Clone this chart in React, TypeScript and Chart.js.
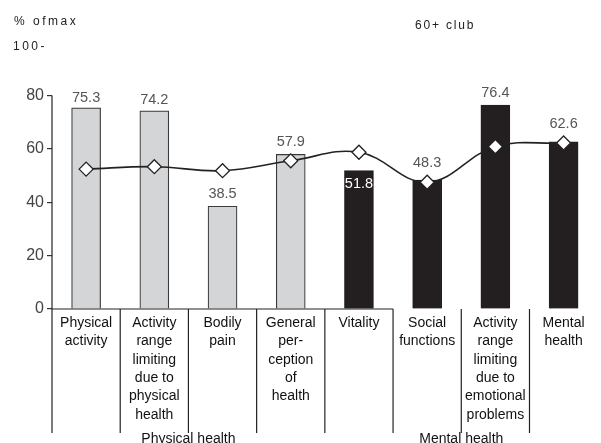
import React, { useEffect, useRef } from "react";
import { Chart, registerables } from "chart.js";

Chart.register(...registerables);

const categories: string[][] = [
  ["Physical", "activity"],
  ["Activity", "range", "limiting", "due to", "physical", "health"],
  ["Bodily", "pain"],
  ["General", "per-", "ception", "of", "health"],
  ["Vitality"],
  ["Social", "functions"],
  ["Activity", "range", "limiting", "due to", "emotional", "problems"],
  ["Mental", "health"],
];
const groupNames = ["Physical health", "Mental health"];
const groupSpans = [[0, 3], [4, 7]];
const barValues = [75.3, 74.2, 38.5, 57.9, 51.8, 48.3, 76.4, 62.6];
const lineValues = [52.4, 53.3, 51.8, 55.5, 58.7, 47.5, 60.8, 62.2];
const barGroupIndex = [0, 0, 0, 0, 1, 1, 1, 1];
const yTickValues = [0, 20, 40, 60, 80];
const yMax = 100;
const topLabel = "% ofmax";
const topTick = "100-";
const title = "60+ club";

// style helpers (not data)
const labelLift = [10, 11, 12, 12, -13, 17, 12, 18];

const FONT = "'Liberation Sans', Arial, sans-serif";

const overlayPlugin = {
  id: "overlay",
  afterDatasetsDraw(chart: any) {
    const ctx = chart.ctx;
    const meta = chart.getDatasetMeta(0);
    ctx.save();
    ctx.font = `14.5px ${FONT}`;
    ctx.textAlign = "center";
    ctx.textBaseline = "middle";
    meta.data.forEach((bar: any, i: number) => {
      const lift = labelLift[i];
      ctx.fillStyle = lift < 0 ? "#ffffff" : "#555555";
      ctx.fillText(barValues[i].toFixed(1), bar.x, bar.y - lift);
    });
    ctx.restore();
  },
  afterDraw(chart: any) {
    const ctx = chart.ctx;
    const xs = chart.scales.x;
    const ys = chart.scales.y;
    const y0 = ys.getPixelForValue(0);
    const bottom = 433;
    ctx.save();
    ctx.strokeStyle = "#222222";
    ctx.lineWidth = 1.2;
    ctx.beginPath();
    ctx.moveTo(xs.left, ys.getPixelForValue(80));
    ctx.lineTo(xs.left, bottom);
    ctx.stroke();
    for (let i = 1; i < categories.length; i++) {
      const bx = xs.getPixelForValue(i - 0.5);
      ctx.beginPath();
      ctx.moveTo(bx, y0);
      ctx.lineTo(bx, bottom);
      ctx.stroke();
    }
    ctx.beginPath();
    ctx.moveTo(xs.left, y0);
    ctx.lineTo(xs.getPixelForValue(4.5), y0);
    ctx.stroke();
    ctx.fillStyle = "#111111";
    ctx.font = `14px ${FONT}`;
    ctx.textAlign = "center";
    ctx.textBaseline = "middle";
    groupNames.forEach((g, gi) => {
      const [a, b] = groupSpans[gi];
      const cx = (xs.getPixelForValue(a - 0.5) + xs.getPixelForValue(b + 0.5)) / 2;
      ctx.fillText(g, cx, 439);
    });
    ctx.textAlign = "left";
    ctx.font = `12px ${FONT}`;
    (ctx as any).letterSpacing = "2.5px";
    ctx.fillStyle = "#222222";
    ctx.fillText(topLabel, 14, 22);
    ctx.fillText(topTick, 13, ys.getPixelForValue(yMax) + 5);
    (ctx as any).letterSpacing = "1.8px";
    ctx.fillText(title, 415, 26);
    ctx.restore();
  },
};

export default function App() {
  const ref = useRef<HTMLCanvasElement | null>(null);
  useEffect(() => {
    if (!ref.current) return;
    const chart = new Chart(ref.current, {
      type: "bar",
      data: {
        labels: categories,
        datasets: [
          {
            type: "bar",
            data: barValues,
            backgroundColor: barGroupIndex.map((g) => (g === 0 ? "#d4d5d7" : "#231f20")),
            borderColor: barGroupIndex.map((g) => (g === 0 ? "#3a3a3a" : "#231f20")),
            borderWidth: 1.2,
            barThickness: 29,
            order: 2,
          } as any,
          {
            type: "line",
            data: lineValues,
            borderColor: "#222222",
            borderWidth: 1.6,
            tension: 0.4,
            pointStyle: "rectRot",
            pointRadius: 7,
            pointBackgroundColor: "#ffffff",
            pointBorderColor: "#222222",
            pointBorderWidth: 1.3,
            order: 1,
          } as any,
        ],
      },
      options: {
        animation: false,
        responsive: true,
        maintainAspectRatio: false,
        layout: { padding: { top: 42, left: 0, right: 0, bottom: 0 } },
        plugins: { legend: { display: false }, tooltip: { enabled: false } },
        scales: {
          x: {
            type: "category",
            offset: true,
            grid: { display: false },
            border: { display: false },
            ticks: {
              autoSkip: false,
              maxRotation: 0,
              padding: -3,
              color: "#111111",
              font: { family: FONT, size: 14, lineHeight: 1.31 },
            },
            afterFit: (s: any) => {
              s.height = 134;
            },
          },
          y: {
            min: 0,
            max: yMax,
            afterBuildTicks: (s: any) => {
              s.ticks = yTickValues.map((v) => ({ value: v }));
            },
            grid: {
              drawOnChartArea: false,
              drawTicks: true,
              tickLength: 5,
              color: "#333333",
              lineWidth: 1.2,
            },
            border: { display: false },
            ticks: {
              padding: 3,
              color: "#444444",
              font: { family: FONT, size: 16 },
            },
            afterFit: (s: any) => {
              s.width = 52;
            },
          },
        },
      },
      plugins: [overlayPlugin],
    });
    return () => chart.destroy();
  }, []);
  return (
    <div style={{ position: "fixed", left: 0, top: 0, width: 601, height: 443, overflow: "hidden", background: "#fff" }}>
      <div style={{ position: "relative", width: 606, height: 443 }}>
        <canvas ref={ref} />
      </div>
    </div>
  );
}
